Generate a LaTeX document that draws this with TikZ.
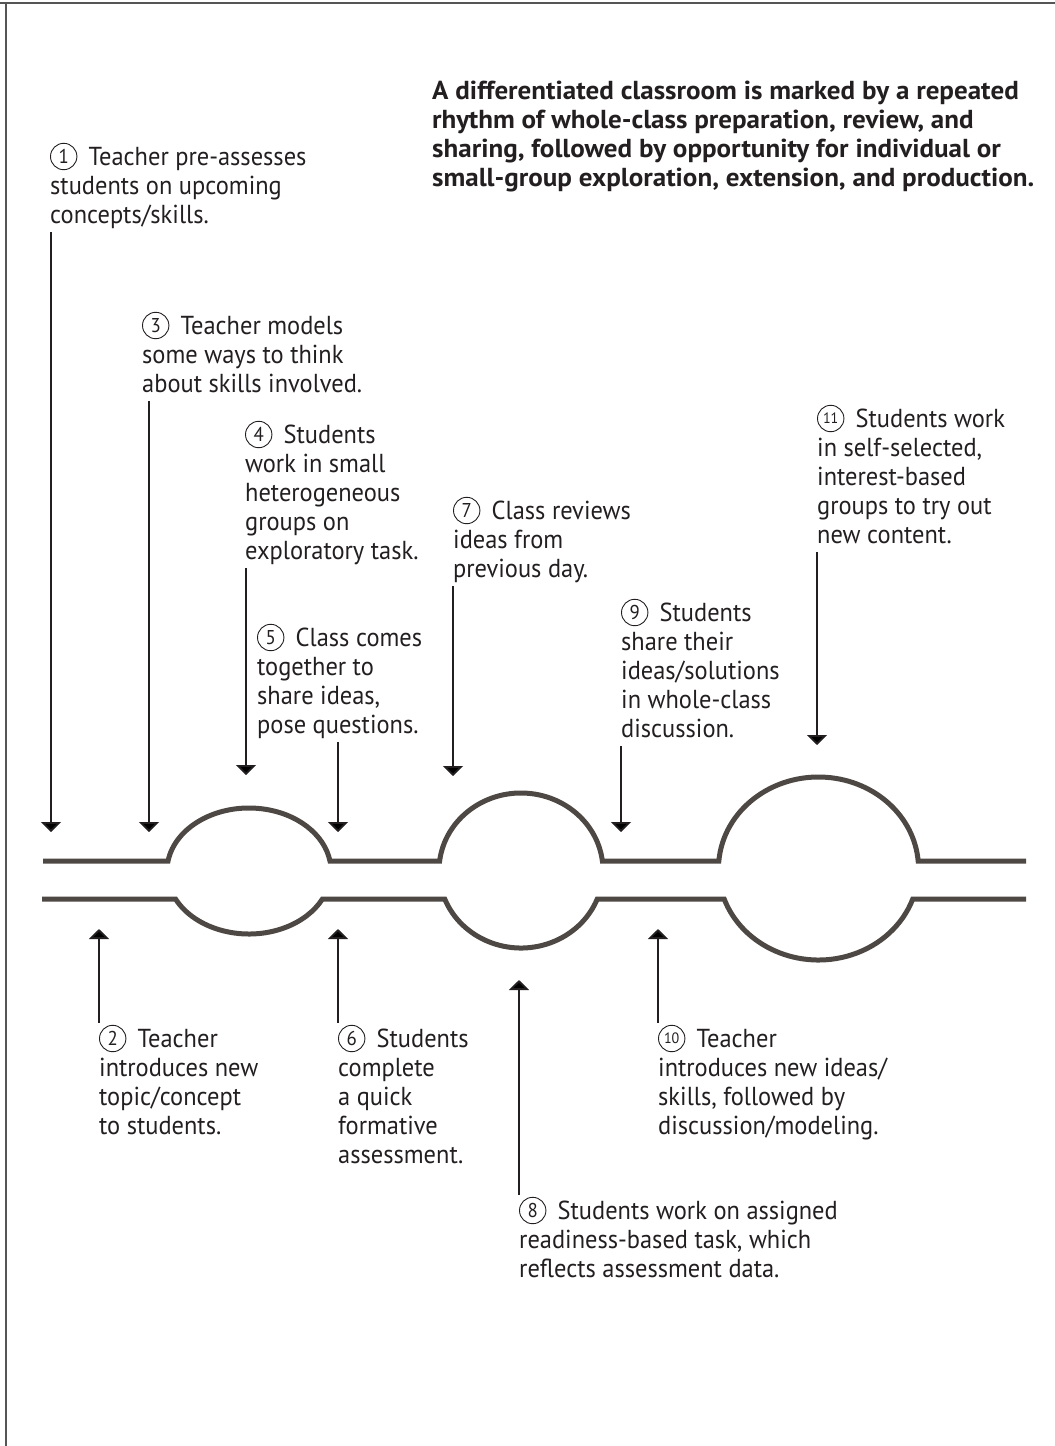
\documentclass[tikz,border=0pt]{standalone}
\usepackage{fontspec}
\setmainfont{PT Sans}[FakeStretch=0.94]
\newfontfamily\hdrfont{PT Sans}[FakeStretch=1.04]
\usetikzlibrary{arrows.meta}
\definecolor{tube}{RGB}{77,72,67}
\definecolor{ink}{RGB}{35,31,32}
\definecolor{framec}{RGB}{85,85,85}
% circled number: circle drawn as a shape, the number kept as text
\newcommand{\cn}[2][20]{\tikz[baseline=0pt]{%
  \useasboundingbox (0pt,-3pt) rectangle (32pt,18pt);
  \draw[ink, line width=0.9pt] (13.5pt,8.5pt) circle[radius=13.2pt];
  \node[anchor=center, inner sep=0pt, outer sep=0pt, text=ink, font=\fontsize{#1}{#1}\selectfont] at (13.5pt,8.5pt) {#2};}}
\newcommand{\lns}[1]{\begin{tabular}[t]{@{}l@{}}#1\end{tabular}}
\tikzset{
  lbl/.style={anchor=base west, inner sep=0pt, font=\fontsize{26}{29}\selectfont, text=ink},
  lblup/.style={lbl, outer ysep=4pt},
  hdr/.style={lbl, font=\fontsize{26}{29}\selectfont\hdrfont\bfseries},
  arr/.style={draw=ink, line width=1.8pt, -{Triangle[width=20pt,length=10pt]}},
  tubeline/.style={draw=tube, line width=5pt},
  framel/.style={draw=framec, line width=2pt},
}
\begin{document}
\begin{tikzpicture}[x=1pt,y=1pt]
\useasboundingbox (0,0) rectangle (1055,-1446);
% frame
\draw[framel] (0,-3) -- (1055,-3);
\draw[framel] (6,-3) -- (6,-1446);
% header
\node[hdr] (hd) at (432,-99) {\lns{A differentiated classroom is marked by a repeated\\ rhythm of whole-class preparation, review, and\\ sharing, followed by opportunity for individual or\\ small-group exploration, extension, and production.}};
% labels above
\node[lbl] (l1) at (50,-165) {\lns{\cn{1} Teacher pre-assesses\\ students on upcoming\\ concepts/skills.}};
\node[lbl] (l3) at (142,-334) {\lns{\cn{3} Teacher models\\ some ways to think\\ about skills involved.}};
\node[lbl] (l4) at (245,-443) {\lns{\cn{4} Students\\ work in small\\ heterogeneous\\ groups on\\ exploratory task.}};
\node[lbl] (l5) at (257,-646) {\lns{\cn{5} Class comes\\ together to\\ share ideas,\\ pose questions.}};
\node[lbl] (l7) at (453,-519) {\lns{\cn{7} Class reviews\\ ideas from\\ previous day.}};
\node[lbl] (l9) at (621,-621) {\lns{\cn{9} Students\\ share their\\ ideas/solutions\\ in whole-class\\ discussion.}};
\node[lbl] (l11) at (817,-427) {\lns{\cn[15]{11} Students work\\ in self-selected,\\ interest-based\\ groups to try out\\ new content.}};
% labels below
\node[lblup] (l2) at (99,-1047) {\lns{\cn{2} Teacher\\ introduces new\\ topic/concept\\ to students.}};
\node[lblup] (l6) at (338,-1047) {\lns{\cn{6} Students\\ complete\\ a quick\\ formative\\ assessment.}};
\node[lblup] (l10) at (658,-1047) {\lns{\cn[15]{10} Teacher\\ introduces new ideas/\\ skills, followed by\\ discussion/modeling.}};
\node[lblup] (l8) at (519,-1219) {\lns{\cn{8} Students work on assigned\\ readiness-based task, which\\ reflects assessment data.}};
% tube
\draw[tubeline] (43,-861) -- (168.04,-861)
  arc[start angle=170.87, end angle=9.13, x radius=82, y radius=63]
  -- (439.62,-861)
  arc[start angle=172.96, end angle=7.04, x radius=82, y radius=77.5]
  -- (718.84,-861)
  arc[start angle=175.30, end angle=4.70, x radius=100, y radius=91.5]
  -- (1026,-861);
\draw[tubeline] (42,-899) -- (175.54,-899)
  arc[start angle=206.39, end angle=333.61, x radius=82, y radius=63]
  -- (444.75,-899)
  arc[start angle=201.58, end angle=338.42, x radius=82, y radius=77.5]
  -- (724.2,-899)
  arc[start angle=199.47, end angle=340.53, x radius=100, y radius=91.5]
  -- (1026,-899);
% arrow tips
\coordinate (t1) at (51,-832);
\coordinate (t3) at (149,-832);
\coordinate (t4) at (246,-775);
\coordinate (t5) at (338,-832);
\coordinate (t7) at (453,-776);
\coordinate (t9) at (621,-832);
\coordinate (t11) at (817,-745);
\coordinate (t2) at (99,-929);
\coordinate (t6) at (338,-929);
\coordinate (t8) at (519,-980);
\coordinate (t10) at (658,-929);
% arrows
\draw[arr] (l1.south -| t1) -- (t1);
\draw[arr] (l3.south -| t3) -- (t3);
\draw[arr] (l4.south -| t4) -- (t4);
\draw[arr] (l5.south -| t5) -- (t5);
\draw[arr] (l7.south -| t7) -- (t7);
\draw[arr] (l9.south -| t9) -- (t9);
\draw[arr] (l11.south -| t11) -- (t11);
\draw[arr] (l2.north -| t2) -- (t2);
\draw[arr] (l6.north -| t6) -- (t6);
\draw[arr] (l8.north -| t8) -- (t8);
\draw[arr] (l10.north -| t10) -- (t10);
\end{tikzpicture}
\end{document}
